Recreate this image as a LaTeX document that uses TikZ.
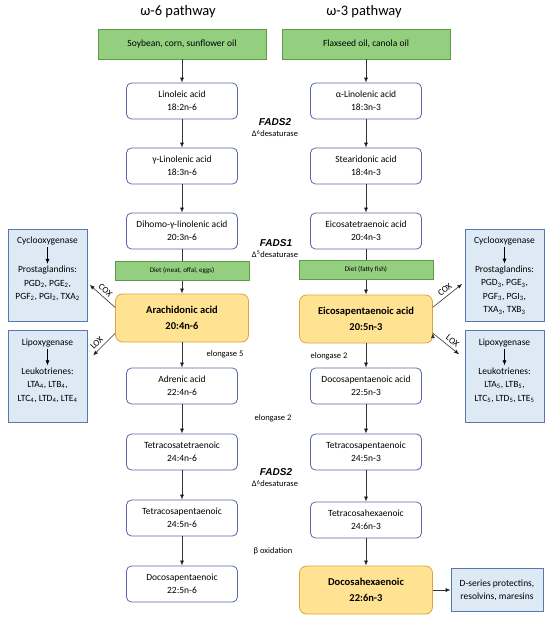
\documentclass[tikz,border=0pt]{standalone}
\usepackage{fontspec}
\setmainfont{Carlito}
\newfontfamily\arialfont{Liberation Sans}
\usetikzlibrary{positioning,arrows.meta}

\definecolor{acidline}{HTML}{5A68A8}
\definecolor{greenfill}{HTML}{93CF7E}
\definecolor{greenline}{HTML}{5E9A48}
\definecolor{goldfill}{HTML}{FFE392}
\definecolor{goldline}{HTML}{D8A640}
\definecolor{prodfill}{HTML}{DDEAF6}
\definecolor{prodline}{HTML}{5878B0}
\definecolor{arrowgray}{HTML}{333333}

\tikzset{
  acid/.style={draw=acidline, fill=white, rounded corners=5pt, line width=0.8pt,
    minimum width=111pt, minimum height=36pt, align=center,
    font=\fontsize{9.5}{13}\selectfont},
  source/.style={draw=greenline, fill=greenfill, line width=0.8pt,
    minimum width=168pt, minimum height=30pt, font=\fontsize{9.5}{11}\selectfont},
  diet/.style={draw=greenline, fill=greenfill, line width=0.8pt,
    minimum width=134pt, minimum height=19pt, font=\fontsize{7}{8}\selectfont},
  key/.style={draw=goldline, fill=goldfill, rounded corners=7pt, line width=0.8pt,
    minimum width=133pt, minimum height=48pt, align=center,
    font=\bfseries\fontsize{10.5}{16}\selectfont},
  product/.style={draw=prodline, fill=prodfill, line width=0.8pt,
    minimum width=79pt, minimum height=92pt},
  ptext/.style={align=center, inner sep=1pt, font=\fontsize{9.5}{13.5}\selectfont},
  enzyme/.style={font=\arialfont\bfseries\itshape\fontsize{10}{12}\selectfont},
  note/.style={font=\fontsize{8.5}{10}\selectfont},
  title/.style={font=\fontsize{14.5}{16}\selectfont},
  lab/.style={sloped, above, inner sep=3pt, font=\fontsize{9}{10}\selectfont}
}

\begin{document}
\begin{tikzpicture}[x=1pt,y=-1pt,node distance=66pt,on grid,
    >={Latex[length=5pt,width=4pt]}]
  \useasboundingbox (0,0) rectangle (550,620);

  % pathway titles
  \node[title] (t6) at (178,12) {ω-6 pathway};
  \node[title] (t3) at (364,12) {ω-3 pathway};

  % omega-6 column
  \node[source] (soy)             at (182,44)           {Soybean, corn, sunflower oil};
  \node[acid]   (la)   [below=57pt of soy]   {Linoleic acid\\18:2n-6};
  \node[acid]   (gla)  [below=65pt of la]    {γ-Linolenic acid\\18:3n-6};
  \node[acid]   (dgla) [below=65pt of gla]   {Dihomo-γ-linolenic acid\\20:3n-6};
  \node[diet]   (dietL)[below=40pt of dgla]  {Diet (meat, offal, eggs)};
  \node[key]    (aa)   [below=47pt of dietL] {Arachidonic acid\\20:4n-6};
  \node[acid]   (adr)  [below=68pt of aa]    {Adrenic acid\\22:4n-6};
  \node[acid]   (tta)  [below=of adr]        {Tetracosatetraenoic\\24:4n-6};
  \node[acid]   (tpa6) [below=of tta]        {Tetracosapentaenoic\\24:5n-6};
  \node[acid]   (dpa6) [below=of tpa6]       {Docosapentaenoic\\22:5n-6};

  % omega-3 column
  \node[source] (flax)            at (366,44)           {Flaxseed oil, canola oil};
  \node[acid]   (ala)  [below=57pt of flax]  {α-Linolenic acid\\18:3n-3};
  \node[acid]   (sda)  [below=65pt of ala]   {Stearidonic acid\\18:4n-3};
  \node[acid]   (eta)  [below=65pt of sda]   {Eicosatetraenoic acid\\20:4n-3};
  \node[diet]   (dietR)[below=39pt of eta]   {Diet (fatty fish)};
  \node[key]    (epa)  [below=49pt of dietR] {Eicosapentaenoic acid\\20:5n-3};
  \node[acid]   (dpa3) [below=67pt of epa]   {Docosapentaenoic acid\\22:5n-3};
  \node[acid]   (tpa3) [below=of dpa3]       {Tetracosapentaenoic\\24:5n-3};
  \node[acid]   (tha)  [below=68pt of tpa3]  {Tetracosahexaenoic\\24:6n-3};
  \node[key]    (dha)  [below=70pt of tha]   {Docosahexaenoic\\22:6n-3};

  % enzymes between the columns
  \node[enzyme] (fads2a) at (275,122)   {FADS2};
  \node[note]   (d6a)    at (275,133.5) {Δ\textsuperscript{6}desaturase};
  \node[enzyme] (fads1)  at (276,243)   {FADS1};
  \node[note]   (d5)     at (275,254.5) {Δ\textsuperscript{5}desaturase};
  \node[note]   (elo5)   at (225,354)   {elongase 5};
  \node[note]   (elo2a)  at (329,356)   {elongase 2};
  \node[note]   (elo2b)  at (273,418)   {elongase 2};
  \node[enzyme] (fads2b) at (276,472)   {FADS2};
  \node[note]   (d6b)    at (275,483.5) {Δ\textsuperscript{6}desaturase};
  \node[note]   (box)    at (273,551)   {β oxidation};

  % eicosanoid boxes
  \node[product] (coxL) at (47.5,275) {};
  \node[ptext]   (coxLa) at (47.5,241)   {Cyclooxygenase};
  \node[ptext]   (coxLb) at (47.5,283.5) {Prostaglandins:\\PGD\textsubscript{2}, PGE\textsubscript{2},\\PGF\textsubscript{2}, PGI\textsubscript{2}, TXA\textsubscript{2}};
  \node[product] (loxL) at (47.5,376.5) {};
  \node[ptext]   (loxLa) at (47.5,343)   {Lipoxygenase};
  \node[ptext]   (loxLb) at (47.5,385)   {Leukotrienes:\\LTA\textsubscript{4}, LTB\textsubscript{4},\\LTC\textsubscript{4}, LTD\textsubscript{4}, LTE\textsubscript{4}};
  \node[product] (coxR) at (504.5,275) {};
  \node[ptext]   (coxRa) at (504.5,241)  {Cyclooxygenase};
  \node[ptext]   (coxRb) at (504.5,290)  {Prostaglandins:\\PGD\textsubscript{3}, PGE\textsubscript{3},\\PGF\textsubscript{3}, PGI\textsubscript{3},\\TXA\textsubscript{3}, TXB\textsubscript{3}};
  \node[product] (loxR) at (504.5,376.5) {};
  \node[ptext]   (loxRa) at (504.5,343)  {Lipoxygenase};
  \node[ptext]   (loxRb) at (504.5,385)  {Leukotrienes:\\LTA\textsubscript{5}, LTB\textsubscript{5},\\LTC\textsubscript{5}, LTD\textsubscript{5}, LTE\textsubscript{5}};
  \node[product, minimum width=92pt, minimum height=43pt, align=center,
        font=\fontsize{9.5}{13}\selectfont] (dser) at (497,590) {D-series protectins,\\resolvins, maresins};

  % pathway arrows
  \path[->, draw=arrowgray, line width=0.6pt]
        (soy)   edge (la)      (la)    edge (gla)     (gla)  edge (dgla)
        (dietL) edge (aa)      (aa)    edge (adr)     (adr)  edge (tta)
        (tta)   edge (tpa6)    (tpa6)  edge (dpa6)
        (flax)  edge (ala)     (ala)   edge (sda)     (sda)  edge (eta)
        (dietR) edge (epa)     (epa)   edge (dpa3)    (dpa3) edge (tpa3)
        (tpa3)  edge (tha)     (tha)   edge (dha)     (dha)  edge (dser);
  \path[draw=arrowgray, line width=0.6pt]
        (dgla) edge (dietL)    (eta) edge (dietR);

  % COX / LOX branches
  \path[->, draw=arrowgray, line width=0.6pt]
        (aa.171)  edge[shorten >=3pt] node[lab] {COX} (coxL.-11)
        (aa.193)  edge[shorten >=8pt] node[lab] {LOX} (loxL.21)
        (epa.10)  edge[shorten >=3pt] node[lab] {COX} (coxR.190)
        (epa.-12) edge[shorten >=7pt] node[lab] {LOX} (loxR.156);
  \path[->, draw=black, line width=0.6pt, shorten >=1pt, shorten <=1pt]
        (coxLa) edge (coxLb)   (loxLa) edge (loxLb)
        (coxRa) edge (coxRb)   (loxRa) edge (loxRb);
\end{tikzpicture}
\end{document}
